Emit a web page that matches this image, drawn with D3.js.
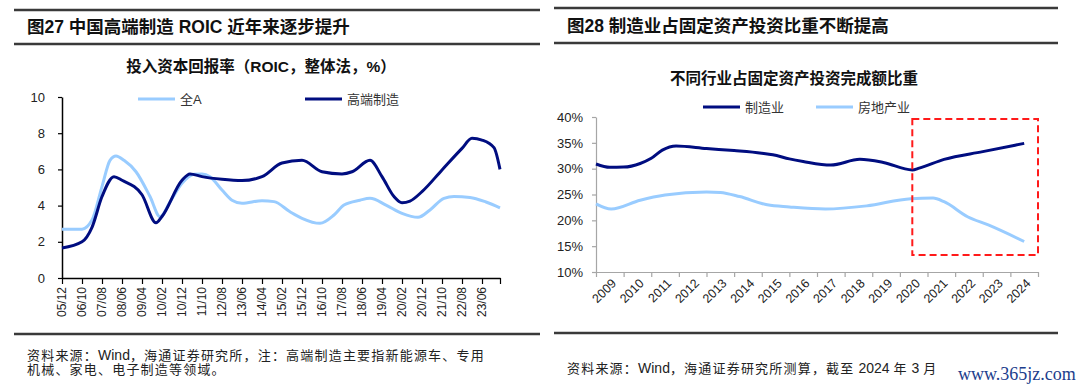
<!DOCTYPE html>
<html>
<head>
<meta charset="utf-8">
<script src="https://cdn.jsdelivr.net/npm/d3@7"></script>
<style>
  body { margin: 0; background: #fff; }
  text { font-family: 'Liberation Sans', Arial, 'Noto Sans CJK SC', sans-serif; }
</style>
</head>
<body>
<svg id="chart" width="1080" height="389"></svg>
<script>
// ---------- Fig 27: ROIC (%), monthly positions "YYYY-MM"
const roicAllA = [
  ["2005-12", 2.7], ["2006-10", 2.7], ["2007-03", 3.2], ["2007-08", 5.05], ["2007-12", 6.5],
  ["2008-03", 6.74], ["2008-07", 6.5], ["2009-01", 5.87], ["2009-08", 4.5], ["2010-01", 3.39],
  ["2010-06", 4.2], ["2010-12", 5.23], ["2011-06", 5.73], ["2011-10", 5.75], ["2012-02", 5.6],
  ["2012-08", 4.86], ["2013-01", 4.3], ["2013-06", 4.13], ["2014-04", 4.27], ["2014-10", 4.22],
  ["2015-06", 3.66], ["2015-12", 3.3], ["2016-09", 3.02], ["2017-04", 3.48], ["2017-09", 4.03],
  ["2018-05", 4.3], ["2018-10", 4.4], ["2019-06", 4.03], ["2020-02", 3.57], ["2020-10", 3.35],
  ["2021-04", 3.76], ["2021-11", 4.4], ["2022-04", 4.5], ["2022-12", 4.45], ["2023-08", 4.2],
  ["2024-03", 3.88]
];
const roicHighEnd = [
  ["2005-12", 1.66], ["2006-10", 2.0], ["2007-03", 2.8], ["2007-08", 4.5], ["2008-02", 5.6],
  ["2008-06", 5.4], ["2009-04", 4.6], ["2009-11", 3.05], ["2010-02", 3.4], ["2010-12", 5.4],
  ["2011-04", 5.75], ["2011-10", 5.6], ["2012-08", 5.45], ["2013-06", 5.38], ["2014-04", 5.6],
  ["2015-02", 6.35], ["2015-12", 6.5], ["2016-10", 5.87], ["2017-08", 5.75], ["2018-01", 5.87],
  ["2018-10", 6.5], ["2019-04", 5.6], ["2019-10", 4.5], ["2020-02", 4.16], ["2020-06", 4.25],
  ["2020-12", 4.77], ["2021-10", 5.97], ["2022-08", 7.16], ["2023-01", 7.72], ["2023-06", 7.62],
  ["2023-12", 7.2], ["2024-03", 6.0]
];
const roicTickLabels = ["05/12", "06/10", "07/08", "08/06", "09/04", "10/02", "10/12", "11/10",
  "12/08", "13/06", "14/04", "15/02", "15/12", "16/10", "17/08", "18/06", "19/04", "20/02",
  "20/12", "21/10", "22/08", "23/06"];
const roicYTicks = [0, 2, 4, 6, 8, 10];

// ---------- Fig 28: share of fixed-asset investment (%), positions in fractional years
const faiYears = [2009, 2010, 2011, 2012, 2013, 2014, 2015, 2016, 2017, 2018, 2019, 2020, 2021, 2022, 2023, 2024];
const faiManufacturing = [
  [2009.0, 30.9], [2009.5, 30.26], [2010.0, 30.3], [2010.6, 31.0], [2011.0, 32.0], [2011.4, 33.6],
  [2011.9, 34.4], [2013.0, 33.9], [2014.0, 33.5], [2015.0, 33.0], [2015.4, 32.7], [2016.0, 31.9],
  [2016.5, 31.4], [2017.5, 30.7], [2018.55, 31.8], [2019.4, 31.2], [2020.45, 29.75], [2020.7, 30.1],
  [2021.6, 31.8], [2023.0, 33.3], [2024.5, 34.9]
];
const faiRealEstate = [
  [2009.0, 23.2], [2009.55, 22.2], [2010.6, 23.9], [2011.5, 24.9], [2013.0, 25.5], [2013.5, 25.4],
  [2014.2, 24.6], [2015.2, 23.0], [2016.0, 22.6], [2017.3, 22.2], [2018.8, 22.8], [2020.4, 24.2],
  [2021.2, 24.3], [2021.6, 23.6], [2022.45, 20.7], [2023.2, 19.1], [2024.5, 15.9]
];
const faiYTicks = [10, 15, 20, 25, 30, 35, 40];
const faiHighlight = [[2020.45, 39.6], [2025.0, 13.3]];

const DARK = '#000d80';
const LIGHT = '#99ccff';
const CJK = "'Liberation Sans', Arial, 'Noto Sans CJK SC', sans-serif";

const svg = d3.select('#chart');

function monthIndex(s) {
  const [y, m] = s.split('-').map(Number);
  return (y - 2005) * 12 + (m - 12);
}

// header rules + title for each panel
function panelFrame(x0, x1, top, mid, bottom, title) {
  const g = svg.append('g');
  [top, mid, bottom].forEach(y => {
    g.append('line').attr('x1', x0).attr('x2', x1).attr('y1', y).attr('y2', y)
      .attr('stroke', '#3a3a3a').attr('stroke-width', 2.5);
  });
  g.append('text').attr('x', x0 + 13).attr('y', (top + mid) / 2).attr('dy', '0.36em')
    .attr('font-size', 17.5).attr('font-weight', 700).attr('fill', '#111')
    .text(title);
  return g;
}

function legendItem(x, y, color, label) {
  svg.append('line').attr('x1', x).attr('x2', x + 37).attr('y1', y).attr('y2', y)
    .attr('stroke', color).attr('stroke-width', 3);
  svg.append('text').attr('x', x + 42).attr('y', y).attr('dy', '0.36em')
    .attr('font-size', 13).attr('fill', '#333').text(label);
}

// source note: CJK runs get a little tracking, latin runs none
function sourceLine(x, y, str) {
  const t = svg.append('text').attr('x', x).attr('y', y).attr('dy', '0.36em')
    .attr('font-size', 13).attr('fill', '#222');
  str.match(/[A-Za-z0-9 ]+|[^A-Za-z0-9 ]+/g).forEach(run => {
    const latin = /^[A-Za-z0-9 ]+$/.test(run);
    t.append('tspan').style('letter-spacing', latin ? '0px' : '1.2px')
      .attr('font-size', latin ? 14 : 13).text(run);
  });
}

// ================= Left: ROIC =================
panelFrame(14, 540, 10, 44, 334, '图27 中国高端制造 ROIC 近年来逐步提升');

svg.append('text').attr('x', 261).attr('y', 66).attr('dy', '0.36em')
  .attr('text-anchor', 'middle').attr('font-size', 15.5).attr('font-weight', 700).attr('fill', '#111')
  .text('投入资本回报率（ROIC，整体法，%）');

const xL = d3.scaleLinear().domain([0, 219]).range([62, 500]);
const yL = d3.scaleLinear().domain([0, 10]).range([278, 97]);

const roicTickVals = roicTickLabels.map((_, i) => i * 10).concat([219]);

const axL = svg.append('g').attr('transform', 'translate(0,278)')
  .call(d3.axisBottom(xL).tickValues(roicTickVals).tickSize(6).tickSizeOuter(0).tickFormat(() => ''));
axL.select('.domain').attr('stroke', '#000').attr('stroke-width', 1.5);
axL.selectAll('.tick line').attr('stroke', '#000').attr('stroke-width', 1.2);

svg.append('g').selectAll('text').data(roicTickLabels).join('text')
  .attr('transform', (d, i) => `translate(${xL(i * 10)},287) rotate(-90)`)
  .attr('text-anchor', 'end').attr('dy', '0.36em')
  .attr('font-size', 12).attr('fill', '#222').text(d => d);

const ayL = svg.append('g').attr('transform', 'translate(62,0)')
  .call(d3.axisLeft(yL).tickValues(roicYTicks).tickSize(4).tickSizeOuter(0).tickPadding(13));
ayL.select('.domain').attr('stroke', '#000').attr('stroke-width', 1.5);
ayL.selectAll('.tick line').attr('stroke', '#000').attr('stroke-width', 1.2);
ayL.selectAll('.tick text').attr('font-size', 13).attr('fill', '#222').style('font-family', CJK);

const lineL = d3.line().x(d => xL(monthIndex(d[0]))).y(d => yL(d[1])).curve(d3.curveMonotoneX);
svg.append('path').datum(roicAllA).attr('d', lineL)
  .attr('fill', 'none').attr('stroke', LIGHT).attr('stroke-width', 3);
svg.append('path').datum(roicHighEnd).attr('d', lineL)
  .attr('fill', 'none').attr('stroke', DARK).attr('stroke-width', 3);

legendItem(138, 99, LIGHT, '全A');
legendItem(305, 99, DARK, '高端制造');

sourceLine(27, 355, '资料来源：Wind，海通证券研究所，注：高端制造主要指新能源车、专用');
sourceLine(27, 369, '机械、家电、电子制造等领域。');

// ================= Right: FAI share =================
panelFrame(554, 1058, 8, 43, 333, '图28 制造业占固定资产投资比重不断提高');

svg.append('text').attr('x', 794).attr('y', 78).attr('dy', '0.36em')
  .attr('text-anchor', 'middle').attr('font-size', 15.5).attr('font-weight', 700).attr('fill', '#111')
  .text('不同行业占固定资产投资完成额比重');

legendItem(703, 107, DARK, '制造业');
legendItem(816, 107, LIGHT, '房地产业');

const xR = d3.scaleLinear().domain([2009, 2025]).range([596, 1038]);
const yR = d3.scaleLinear().domain([10, 40]).range([272, 117]);

const axR = svg.append('g').attr('transform', 'translate(0,272)')
  .call(d3.axisBottom(xR).tickValues(d3.range(2009, 2026)).tickSize(5).tickSizeOuter(0).tickFormat(() => ''));
axR.select('.domain').attr('stroke', '#a6a6a6').attr('stroke-width', 1.2);
axR.selectAll('.tick line').attr('stroke', '#a6a6a6').attr('stroke-width', 1.2);

svg.append('g').selectAll('text').data(faiYears).join('text')
  .attr('transform', d => `translate(${xR(d + 0.5) + 4},281) rotate(-45)`)
  .attr('text-anchor', 'end').attr('dy', '0.36em')
  .attr('font-size', 12.5).attr('fill', '#222').text(d => d);

const ayR = svg.append('g').attr('transform', 'translate(596,0)')
  .call(d3.axisLeft(yR).tickValues(faiYTicks).tickSize(4).tickSizeOuter(0).tickPadding(9)
    .tickFormat(d => d + '%'));
ayR.select('.domain').attr('stroke', '#a6a6a6').attr('stroke-width', 1.2);
ayR.selectAll('.tick line').attr('stroke', '#a6a6a6').attr('stroke-width', 1.2);
ayR.selectAll('.tick text').attr('font-size', 13).attr('fill', '#222').style('font-family', CJK);

const lineR = d3.line().x(d => xR(d[0])).y(d => yR(d[1])).curve(d3.curveMonotoneX);
svg.append('path').datum(faiRealEstate).attr('d', lineR)
  .attr('fill', 'none').attr('stroke', LIGHT).attr('stroke-width', 3);
svg.append('path').datum(faiManufacturing).attr('d', lineR)
  .attr('fill', 'none').attr('stroke', DARK).attr('stroke-width', 3);

// red dashed highlight box
const [hb0, hb1] = faiHighlight;
svg.append('rect')
  .attr('x', xR(hb0[0])).attr('y', yR(hb0[1]))
  .attr('width', xR(hb1[0]) - xR(hb0[0])).attr('height', yR(hb1[1]) - yR(hb0[1]))
  .attr('fill', 'none').attr('stroke', '#ff1a1a').attr('stroke-width', 2)
  .attr('stroke-dasharray', '7,4');

sourceLine(567, 368, '资料来源：Wind，海通证券研究所测算，截至 2024 年 3 月');

// watermark
svg.append('text').attr('x', 958).attr('y', 374).attr('dy', '0.36em')
  .attr('font-size', 18).attr('fill', '#1c3d8c').style('font-family', "'Liberation Serif', 'DejaVu Serif', serif")
  .text('www.365jz.com');
</script>
</body>
</html>
